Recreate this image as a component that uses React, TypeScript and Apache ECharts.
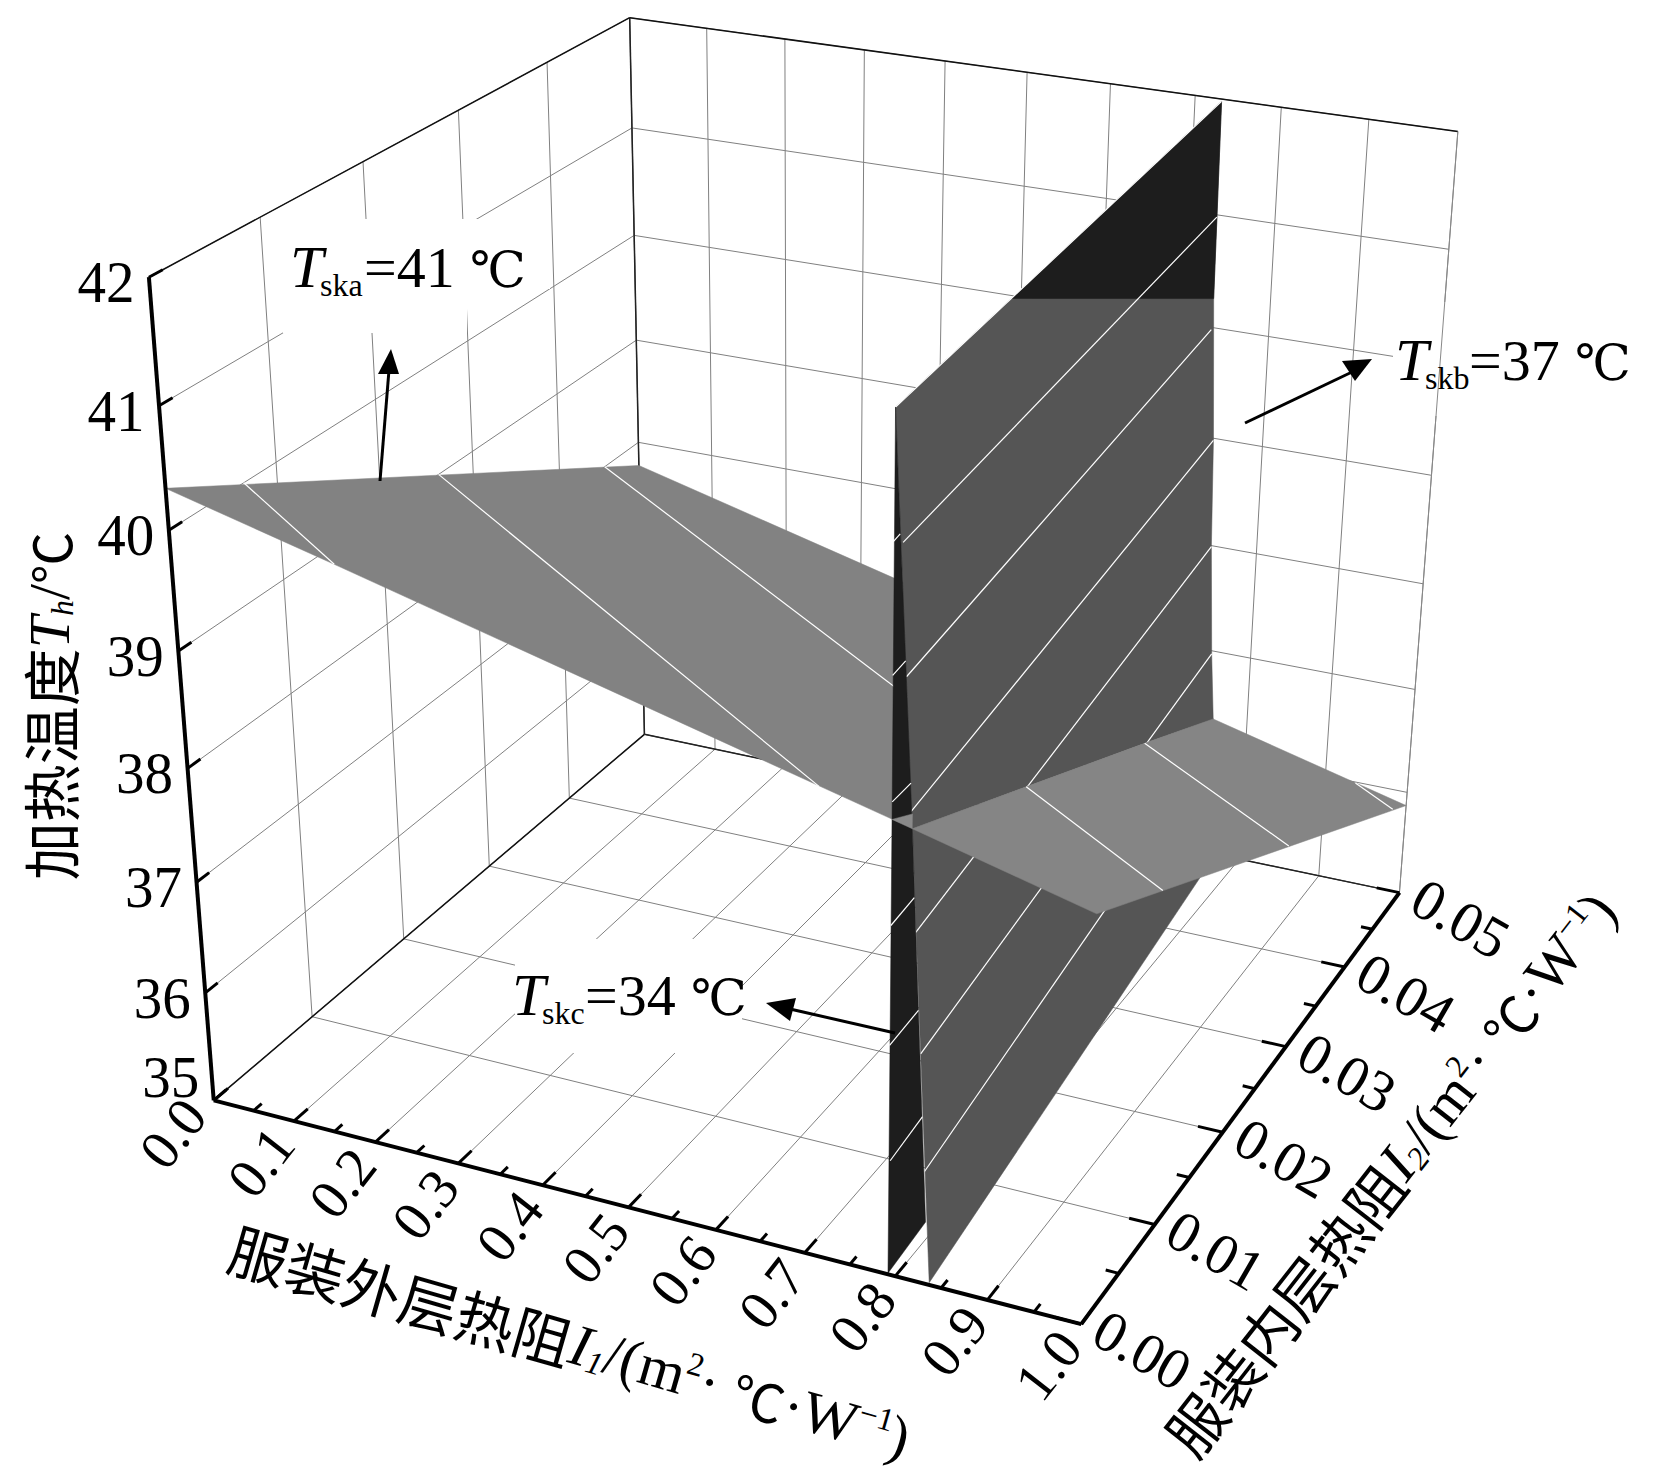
import React, { useEffect, useRef } from "react";
import * as echarts from "echarts";

type P3 = [number, number, number];

const I1Ticks = [0, 0.1, 0.2, 0.3, 0.4, 0.5, 0.6, 0.7, 0.8, 0.9, 1.0];
const I1Minor = [0.05, 0.15, 0.25, 0.35, 0.45, 0.55, 0.65, 0.75, 0.85, 0.95];
const I2Ticks = [0, 0.01, 0.02, 0.03, 0.04, 0.05];
const I2Minor = [0.005, 0.015, 0.025, 0.035, 0.045];
const TTicks = [35, 36, 37, 38, 39, 40, 41, 42];
const I1Labels = ["0.0", "0.1", "0.2", "0.3", "0.4", "0.5", "0.6", "0.7", "0.8", "0.9", "1.0"];
const I2Labels = ["0.00", "0.01", "0.02", "0.03", "0.04", "0.05"];
const TLabels = ["35", "36", "37", "38", "39", "40", "41", "42"];

// surface vertices, [I1, I2, T]
const wingA: P3[] = [[0, 0, 40.34], [0, 0.05, 37.77], [0.758, 0.05, 36.34], [0.792, 0, 38.86], [0.191, 0, 39.99]];
const wingB: P3[] = [[0.812, 0, 38.82], [0.793, 0.0165, 38], [0.771, 0.0367, 37], [0.758, 0.05, 36.34], [1, 0.05, 35.87], [1, 0, 38.46]];
const wingTip: P3[] = [[0.791, 0, 38.86], [0.768, 0.005, 38.52], [0.812, 0, 38.82]];
const sheetUpper: P3[] = [[0.79, 0, 41.99], [0.731, 0.05, 41.98], [0.733, 0.05, 40.26], [0.741, 0.05, 39], [0.745, 0.05, 37.99], [0.752, 0.05, 36.97], [0.758, 0.05, 36.34], [0.771, 0.0367, 37], [0.793, 0.0165, 38], [0.812, 0, 38.82]];
const sheetLower: P3[] = [[0.812, 0, 38.82], [0.837, 0, 35.02], [0.77, 0.05, 35], [0.758, 0.05, 36.34]];
const sheetTop: P3[] = [[0.731, 0.05, 41.98], [0.77, 0.0158, 41.97], [0.733, 0.05, 40.26]];
const strip: P3[] = [[0.79, 0, 41.99], [0.812, 0, 38.82], [0.832, 0, 35.55], [0.792, 0, 35.01], [0.791, 0, 38.86]];

// isotherm lines on the surfaces
const wingAContours: P3[][] = [
  [[0, 0.0069, 40], [0.191, 0, 39.99]],
  [[0, 0.0262, 39], [0.715, 0, 39]],
  [[0, 0.0456, 38], [0.793, 0.0165, 38]],
];
const wingBContours: P3[][] = [
  [[0.793, 0.0165, 38], [1, 0.0089, 38]],
  [[0.771, 0.0367, 37], [1, 0.0283, 37]],
  [[0.937, 0.05, 35.99], [1, 0.0473, 36.02]],
];
const sheetContours: P3[][] = [
  [[0.79, 0, 41.99], [0.731, 0.05, 41.98]],
  [[0.799, 0, 41.01], [0.732, 0.05, 40.98]],
  [[0.804, 0, 40], [0.732, 0.05, 39.98]],
  [[0.81, 0, 38.95], [0.741, 0.05, 38.98]],
  [[0.817, 0, 37.99], [0.745, 0.05, 37.99]],
  [[0.824, 0, 36.99], [0.752, 0.05, 36.97]],
  [[0.83, 0, 35.99], [0.76, 0.05, 36]],
];
const stripContours: P3[][] = [
  [[0.789, 0, 41], [0.796, 0, 41.07]],
  [[0.79, 0, 39.99], [0.803, 0, 40.12]],
  [[0.791, 0, 39], [0.81, 0, 39.18]],
  [[0.791, 0, 38], [0.815, 0, 38.27]],
  [[0.791, 0, 37], [0.821, 0, 37.35]],
  [[0.793, 0, 36.01], [0.827, 0, 36.46]],
];

// camera calibration: [I1, I2, T, px, py]
const cal: number[][] = [
  [0, 0, 35, 212, 1100], [1, 0, 35, 1081, 1325], [1, 0.05, 35, 1400, 892], [0, 0.05, 35, 643, 735],
  [0, 0, 42, 148, 277], [1, 0.05, 42, 1458, 132], [0, 0.05, 42, 630, 18],
  [0, 0, 41, 159, 405], [0, 0, 40, 169, 530], [0, 0, 39, 178, 652], [0, 0, 38, 188, 768], [0, 0, 37, 197, 882], [0, 0, 36, 206, 991],
  [0.2, 0, 35, 378, 1143], [0.4, 0, 35, 543, 1186], [0.6, 0, 35, 718, 1231], [0.8, 0, 35, 892, 1277],
  [1, 0.01, 35, 1154, 1224], [1, 0.02, 35, 1223, 1131], [1, 0.03, 35, 1285, 1046], [1, 0.04, 35, 1346, 967],
];
function solveCam(): number[] {
  const n = 11;
  const A = Array.from({ length: n }, () => new Array(n + 1).fill(0));
  const add = (r: number[], b: number) => {
    for (let i = 0; i < n; i++) { for (let j = 0; j < n; j++) A[i][j] += r[i] * r[j]; A[i][n] += r[i] * b; }
  };
  for (const [i1, i2, t, px, py] of cal) {
    const u = i1, v = i2 / 0.05, w = (t - 35) / 7, x = px / 1000, y = py / 1000;
    add([u, v, w, 1, 0, 0, 0, 0, -x * u, -x * v, -x * w], x);
    add([0, 0, 0, 0, u, v, w, 1, -y * u, -y * v, -y * w], y);
  }
  for (let c = 0; c < n; c++) {
    let m = c; for (let r = c + 1; r < n; r++) if (Math.abs(A[r][c]) > Math.abs(A[m][c])) m = r;
    [A[c], A[m]] = [A[m], A[c]];
    for (let r = 0; r < n; r++) if (r !== c) { const f = A[r][c] / A[c][c]; for (let k = c; k <= n; k++) A[r][k] -= f * A[c][k]; }
  }
  return A.map((row, i) => row[n] / row[i]);
}
const P = solveCam();
function project(p: P3): [number, number] {
  const u = p[0], v = p[1] / 0.05, w = (p[2] - 35) / 7;
  const d = P[8] * u + P[9] * v + P[10] * w + 1;
  return [1000 * (P[0] * u + P[1] * v + P[2] * w + P[3]) / d, 1000 * (P[4] * u + P[5] * v + P[6] * w + P[7]) / d];
}

const SERIF = "'Liberation Serif','DejaVu Serif','Noto Sans CJK SC',serif";
const CJK = "'Noto Sans CJK SC','Liberation Serif',serif";
const GRID = "#808080";
const deg = Math.PI / 180;

type Prim =
  | { k: "line"; pts: P3[]; c: string; w: number }
  | { k: "poly"; pts: P3[]; c: string }
  | { k: "mask"; x: number; y: number; w: number; h: number }
  | { k: "label"; at: P3; dx: number; dy: number; text: string; size: number; rot: number; sy?: number };

function buildPrims(): Prim[] {
  const out: Prim[] = [];
  const line = (a: P3, b: P3, c = GRID, w = 1) => out.push({ k: "line", pts: [a, b], c, w });
  // wall and floor grids
  I1Ticks.forEach((a) => { line([a, 0, 35], [a, 0.05, 35]); line([a, 0.05, 35], [a, 0.05, 42]); });
  I2Ticks.forEach((a) => { line([0, a, 35], [1, a, 35]); line([0, a, 35], [0, a, 42]); });
  TTicks.forEach((a) => { line([0, 0, a], [0, 0.05, a]); line([0, 0.05, a], [1, 0.05, a]); });
  // white boxes behind the annotations
  out.push({ k: "mask", x: 283, y: 219, w: 267, h: 70 });
  out.push({ k: "mask", x: 283, y: 288, w: 184, h: 45 });
  out.push({ k: "mask", x: 1393, y: 302, w: 261, h: 114 });
  out.push({ k: "mask", x: 515, y: 939, w: 227, h: 114 });
  // frame
  line([0, 0, 35], [0, 0.05, 35], "#111", 1.5);
  line([0, 0.05, 35], [1, 0.05, 35], "#222", 1.5);
  line([0, 0.05, 35], [0, 0.05, 42], "#222", 1.5);
  line([0, 0, 42], [0, 0.05, 42], "#111", 1.5);
  line([0, 0.05, 42], [1, 0.05, 42], "#111", 1.5);
  line([1, 0.05, 35], [1, 0.05, 42], "#888", 1);
  // surfaces, far to near
  const white = "#ffffff";
  out.push({ k: "poly", pts: wingA, c: "#828282" });
  wingAContours.forEach((l) => line(l[0], l[1], white, 1.2));
  out.push({ k: "poly", pts: sheetLower, c: "#555555" });
  out.push({ k: "poly", pts: sheetUpper, c: "#555555" });
  out.push({ k: "poly", pts: sheetTop, c: "#1d1d1d" });
  sheetContours.forEach((l) => line(l[0], l[1], white, 1.2));
  out.push({ k: "poly", pts: strip, c: "#1d1d1d" });
  stripContours.forEach((l) => line(l[0], l[1], white, 1.2));
  out.push({ k: "poly", pts: wingB, c: "#858585" });
  wingBContours.forEach((l) => line(l[0], l[1], white, 1.2));
  out.push({ k: "poly", pts: wingTip, c: "#8a8a8a" });
  // axes
  line([0, 0, 35], [1, 0, 35], "#000", 4);
  line([1, 0, 35], [1, 0.05, 35], "#000", 4);
  line([0, 0, 35], [0, 0, 42], "#000", 4);
  I1Ticks.forEach((a) => line([a, 0, 35], [a, 0.0014, 35], "#000", 3));
  I1Minor.forEach((a) => line([a, 0, 35], [a, 0.0008, 35], "#000", 3));
  I2Ticks.forEach((a) => line([1, a, 35], [0.972, a, 35], "#000", 3));
  I2Minor.forEach((a) => line([1, a, 35], [0.986, a, 35], "#000", 3));
  TTicks.forEach((a) => line([0, 0, a], [0, 0.0012, a], "#000", 3));
  // tick labels
  I1Ticks.forEach((a, i) => out.push({ k: "label", at: [a, 0, 35], dx: a === 0 ? -41 : -33, dy: a === 0 ? 33 : 41, text: I1Labels[i], size: 56, rot: 52 }));
  I2Ticks.forEach((a, i) => out.push({ k: "label", at: [1, a, 35], dx: 61, dy: 26, text: I2Labels[i], size: 58, rot: -30 }));
  TTicks.forEach((a, i) => out.push({ k: "label", at: [0, 0, a], dx: -43, dy: a === 35 ? -23 : 5, text: TLabels[i], size: 57, rot: 0, sy: 1.05 }));
  return out;
}

const rich = (f: number) => ({
  c: { fontFamily: CJK, fontSize: f, fill: "#000", verticalAlign: "middle" },
  i: { fontFamily: SERIF, fontStyle: "italic", fontSize: f, fill: "#000", verticalAlign: "middle" },
  n: { fontFamily: SERIF, fontSize: f, fill: "#000", verticalAlign: "middle" },
  b: { fontFamily: SERIF, fontStyle: "italic", fontSize: f * 0.55, fill: "#000", verticalAlign: "bottom" },
  u: { fontFamily: SERIF, fontSize: f * 0.55, fill: "#000", verticalAlign: "top" },
  d: { fontFamily: CJK, fontSize: f * 0.9, fill: "#000", verticalAlign: "middle" },
});

const title = (text: string, x: number, y: number, rot: number, f: number) => ({
  type: "text", x, y, rotation: rot * deg, z: 50,
  style: { text, rich: rich(f), align: "center", verticalAlign: "middle", fill: "#000" },
});
// y is the text's baseline
const piece = (text: string, x: number, y: number, size: number, font: string, italic = false) => ({
  type: "text", x, y: y - 0.3 * size, z: 50,
  style: { text, fontFamily: font, fontSize: size, fontStyle: italic ? "italic" : "normal", fill: "#000", align: "left", verticalAlign: "middle" },
});
const shaft = (x1: number, y1: number, x2: number, y2: number) => ({
  type: "line", z: 50, shape: { x1, y1, x2, y2 }, style: { stroke: "#000", lineWidth: 3 },
});
const head = (pts: number[][]) => ({ type: "polygon", z: 50, shape: { points: pts }, style: { fill: "#000" } });

export default function App() {
  const ref = useRef<HTMLDivElement>(null);
  useEffect(() => {
    const chart = echarts.init(ref.current!, null, { renderer: "svg" });
    const prims = buildPrims();
    chart.setOption({
      animation: false,
      backgroundColor: "#fff",
      grid: { left: 0, right: 0, top: 0, bottom: 0 },
      xAxis: { type: "value", min: 0, max: 1654, show: false },
      yAxis: { type: "value", min: 0, max: 1473, inverse: true, show: false },
      series: [{
        type: "custom", silent: true, clip: false, data: prims.map((_, i) => [i, 0]),
        renderItem: (_p: any, api: any) => {
          const s = prims[api.value(0) as number];
          if (s.k === "line") {
            const a = api.coord(project(s.pts[0])), b = api.coord(project(s.pts[1]));
            return { type: "line", shape: { x1: a[0], y1: a[1], x2: b[0], y2: b[1] }, style: { stroke: s.c, lineWidth: s.w } };
          }
          if (s.k === "poly") {
            return { type: "polygon", shape: { points: s.pts.map((p) => api.coord(project(p))) }, style: { fill: s.c, stroke: s.c, lineWidth: 0.5 } };
          }
          if (s.k === "mask") {
            const a = api.coord([s.x, s.y]), b = api.coord([s.x + s.w, s.y + s.h]);
            return { type: "rect", shape: { x: a[0], y: a[1], width: b[0] - a[0], height: b[1] - a[1] }, style: { fill: "#fff" } };
          }
          const c = api.coord(project(s.at));
          return {
            type: "text", x: c[0] + s.dx, y: c[1] + s.dy, rotation: s.rot * deg, scaleY: s.sy ?? 1,
            style: { text: s.text, fontFamily: SERIF, fontSize: s.size, fill: "#000", align: "center", verticalAlign: "middle" },
          };
        },
      }],
      graphic: [
        title("{c|服装外层热阻}{i|I}{b|1}{n|/(m}{u|2}{n|· }{d|℃}{n|·W}{u|−1}{n|)}", 570, 1342, -16, 59),
        title("{c|服装内层热阻}{i|I}{b|2}{n|/(m}{u|2}{n|· }{d|℃}{n|·W}{u|−1}{n|)}", 1390, 1173, 52, 58),
        title("{c|加热温度}{i|T}{b|h}{n|/}{d|℃}", 49, 706, 90, 58),
        piece("T", 290, 285, 60, SERIF, true), piece("ska", 320, 295, 32, SERIF), piece("=41", 364, 285, 58, SERIF), piece("℃", 470, 285, 50, SERIF),
        piece("T", 1395, 378, 60, SERIF, true), piece("skb", 1425, 388, 32, SERIF), piece("=37", 1469, 378, 58, SERIF), piece("℃", 1575, 378, 50, SERIF),
        piece("T", 512, 1013, 60, SERIF, true), piece("skc", 542, 1023, 32, SERIF), piece("=34", 585, 1013, 58, SERIF), piece("℃", 691, 1013, 50, SERIF),
        shaft(380, 481, 389, 370), head([[391, 349], [378, 374], [399, 374]]),
        shaft(1245, 423, 1352, 372), head([[1342, 361], [1372, 359], [1355, 381]]),
        shaft(895, 1033, 790, 1009), head([[766, 1003], [796, 998], [790, 1021]]),
      ],
    });
    return () => chart.dispose();
  }, []);
  return <div ref={ref} style={{ position: "absolute", left: 0, top: 0, width: 1654, height: 1473 }} />;
}
